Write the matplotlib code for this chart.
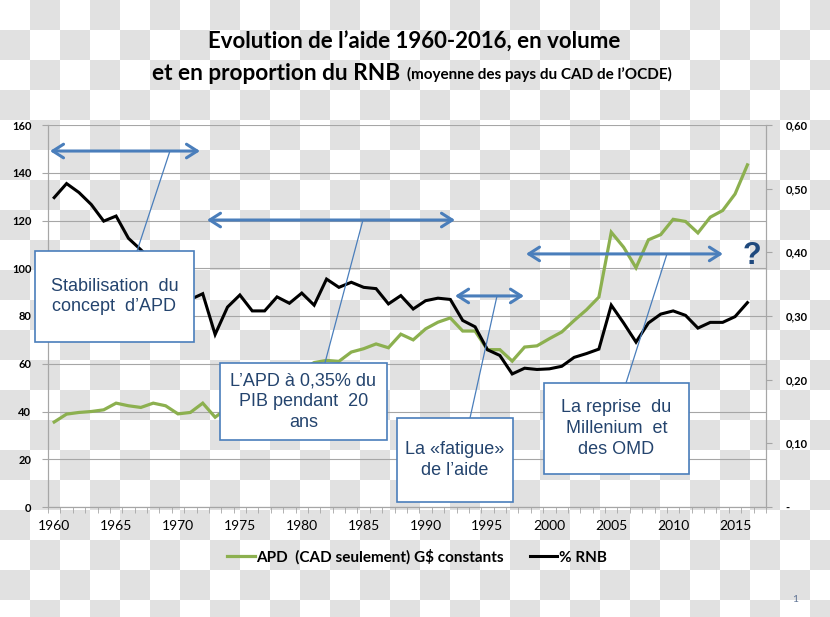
import numpy as np
import matplotlib
matplotlib.use("Agg")
from matplotlib import pyplot as plt
from matplotlib.patches import Rectangle, FancyArrowPatch

# data
years = list(range(1960, 2017))
apd = [35.6, 38.9, 39.6, 40.0, 40.7, 43.5, 42.4, 41.7, 43.5, 42.4,
       39.0, 39.6, 43.5, 37.6, 41.5, 45.5, 46.0, 47.0, 51.5, 54.5,
       57.5, 60.5, 61.4, 61.0, 64.9, 66.3, 68.3, 66.7, 72.4, 70.0,
       74.6, 77.4, 79.2, 73.7, 73.7, 65.9, 65.9, 61.1, 67.0, 67.5,
       70.5, 73.3, 78.1, 82.6, 87.9, 115.1, 108.8, 100.2, 111.9, 114.1,
       120.5, 119.6, 114.8, 121.4, 124.2, 131.1, 143.3]
rnb = [0.486, 0.508, 0.494, 0.475, 0.449, 0.457, 0.422, 0.404, 0.385, 0.365,
       0.335, 0.326, 0.335, 0.271, 0.314, 0.333, 0.308, 0.308, 0.330, 0.320,
       0.336, 0.317, 0.358, 0.345, 0.353, 0.345, 0.343, 0.319, 0.332, 0.311,
       0.324, 0.328, 0.326, 0.293, 0.283, 0.247, 0.238, 0.209, 0.218, 0.216,
       0.217, 0.221, 0.235, 0.241, 0.248, 0.317, 0.289, 0.259, 0.289, 0.303,
       0.308, 0.301, 0.281, 0.290, 0.290, 0.299, 0.321]

left_ticks = [0, 20, 40, 60, 80, 100, 120, 140, 160]
right_ticks = [0, 0.1, 0.2, 0.3, 0.4, 0.5, 0.6]
right_labels = ["-", "0,10", "0,20", "0,30", "0,40", "0,50", "0,60"]
year_labels = list(range(1960, 2016, 5))

GREEN = "#8CB04F"
BLUE = "#4A7EBB"
TXT_BLUE = "#24446E"
GRID = "#A6A6A6"

# background checker (transparent-png look)
W, H = 830, 617
jj, ii = np.indices((H, W))
checker = ((ii // 30 + jj // 30) % 2).astype(float)
bg = np.where(checker[..., None] == 1, 0.886, 1.0) * np.ones((H, W, 3))

fig = plt.figure(figsize=(8.3, 6.17), dpi=100)
fig.figimage(bg, 0, 0, zorder=-5)

ax = fig.add_axes([48 / W, 1 - 507 / H, (766 - 48) / W, (507 - 125) / H])
ax.patch.set_alpha(0)
ax2 = ax.twinx()
ax2.patch.set_alpha(0)

l1, = ax.plot(years, apd, color=GREEN, lw=2.3, solid_joinstyle="miter", zorder=3,
              label="APD  (CAD seulement) G\\$ constants")
l2, = ax2.plot(years, rnb, color="black", lw=2.2, solid_joinstyle="miter", zorder=3,
               label="% RNB")

ax.set_xlim(1959.5, 2017.5)
ax.set_ylim(0, 160)
ax2.set_ylim(0, 0.6)
ax.set_yticks(left_ticks)
ax.set_yticklabels([str(t) for t in left_ticks], fontsize=8, fontweight="bold",
                   family="Lato")
ax.yaxis.grid(True, color=GRID, lw=0.8)
ax.set_axisbelow(True)
ax2.set_yticks(right_ticks)
ax2.set_yticklabels(right_labels, fontsize=8, fontweight="bold", family="Lato")

ax.set_xticks(year_labels)
ax.set_xticklabels([str(y) for y in year_labels], fontsize=10, family="Lato")
ax.set_xticks(np.arange(1959.5, 2018, 1), minor=True)
ax.tick_params(axis="x", which="major", length=0, pad=9)
ax.tick_params(axis="x", which="minor", length=4, color=GRID, direction="out")
ax.tick_params(axis="y", length=4, color=GRID, pad=8)
ax2.tick_params(axis="y", length=4, color=GRID, pad=10)

for a in (ax, ax2):
    a.spines["top"].set_visible(False)
    for s in ("left", "right", "bottom"):
        a.spines[s].set_color(GRID)
        a.spines[s].set_linewidth(0.8)

# annotations drawn on the top axes, in left-axis data coords
tr = ax.transData
arrows = [((1959.66, 149.1), (1971.78, 149.1)),
          ((1972.34, 120.2), (1992.38, 120.2)),
          ((1992.38, 88.4), (1997.95, 88.4)),
          ((1998.11, 106.0), (2014.02, 106.0))]
for p0, p1 in arrows:
    ax2.add_patch(FancyArrowPatch(p0, p1, arrowstyle="<->,head_length=0.55,head_width=0.35",
                                  mutation_scale=14, color=BLUE, lw=2.2, zorder=5,
                                  transform=tr, clip_on=False, shrinkA=0, shrinkB=0))

connectors = [((1969.35, 149.1), (1966.69, 107.2)),
              ((1984.94, 120.2), (1981.87, 60.3)),
              ((1995.77, 88.4), (1993.59, 37.3)),
              ((2009.5, 106.0), (2006.19, 51.9))]
for p0, p1 in connectors:
    ax2.plot([p0[0], p1[0]], [p0[1], p1[1]], color=BLUE, lw=0.9, zorder=5, transform=tr)

boxes = [(1958.45, 69.1, 1971.29, 107.2, "Stabilisation  du\nconcept  d\u2019APD"),
         (1973.39, 28.1, 1986.88, 60.3, "L\u2019APD à 0,35% du\nPIB pendant  20\nans"),
         (1987.69, 2.1, 1997.06, 37.3, "La «fatigue»\nde l\u2019aide"),
         (1999.56, 13.8, 2011.28, 51.9, "La reprise  du\nMillenium  et\ndes OMD")]
for x0, y0, x1, y1, txt in boxes:
    ax2.add_patch(Rectangle((x0, y0), x1 - x0, y1 - y0, facecolor="white",
                            edgecolor=BLUE, lw=1.2, zorder=6, clip_on=False,
                            transform=tr))
    ax2.text((x0 + x1) / 2, (y0 + y1) / 2, txt, ha="center", va="center",
             fontsize=13, color=TXT_BLUE, family="Liberation Sans",
             linespacing=1.3, zorder=7, transform=tr)

ax2.text(2016.37, 105.2, "?", ha="center", va="center", fontsize=22,
         fontweight="bold", color="#1F497D", family="Liberation Sans", zorder=7,
         transform=tr)

# title
fig.text(414 / W, 1 - 42 / H, "Evolution de l\u2019aide 1960-2016, en volume",
         ha="center", va="center", fontsize=16, fontweight="bold", family="Lato")
fig.text(152 / W, 1 - 73 / H, "et en proportion du RNB", ha="left", va="center",
         fontsize=16.3, fontweight="bold", family="Lato")
fig.text(407 / W, 1 - 74 / H, "(moyenne des pays du CAD de l\u2019OCDE)", ha="left",
         va="center", fontsize=11, fontweight="bold", family="Lato")

fig.legend(handles=[l1, l2], loc="center", bbox_to_anchor=(417 / W, 1 - 557 / H),
           ncol=2, frameon=False, handlelength=1.8, handletextpad=0.1,
           columnspacing=1.7, prop={"family": "Lato", "weight": "bold", "size": 11})

fig.text(795 / W, 1 - 599 / H, "1", ha="center", va="center", fontsize=7.5,
         color="#5F7394", family="Lato")

fig.savefig("out.png", dpi=100)
